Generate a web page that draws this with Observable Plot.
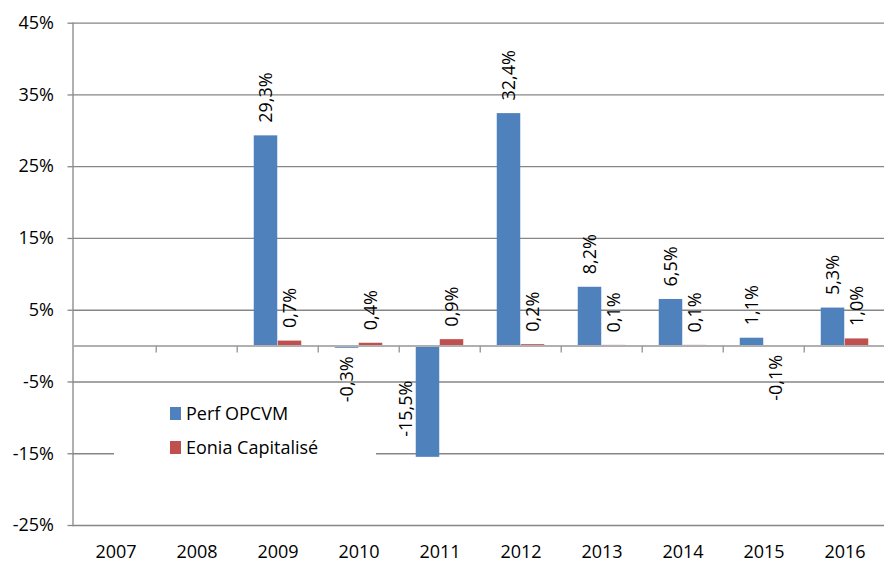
<!DOCTYPE html>
<html>
<head>
<meta charset="utf-8">
<script src="https://cdn.jsdelivr.net/npm/d3@7"></script>
<script src="https://cdn.jsdelivr.net/npm/@observablehq/plot@0.6"></script>
<style>
  html, body { margin: 0; padding: 0; background: #fff; overflow: hidden; }
  #wrap { position: relative; width: 884px; height: 562px; font-family: "Open Sans", Lato, sans-serif; }
  #legend { position: absolute; left: 114px; top: 403px; width: 262px; height: 60px; background: #fff;
            font-size: 18px; color: #000; }
  .item { position: absolute; left: 56px; display: flex; align-items: center; white-space: nowrap; line-height: 20px; }
  .sw { width: 11px; height: 13px; margin-right: 5px; }
</style>
</head>
<body>
<div id="wrap"></div>
<script>
const years = ["2007", "2008", "2009", "2010", "2011", "2012", "2013", "2014", "2015", "2016"];
const perfOPCVM = [null, null, 29.3, -0.3, -15.5, 32.4, 8.2, 6.5, 1.1, 5.3];
const eoniaCapitalise = [null, null, 0.7, 0.4, 0.9, 0.2, 0.1, 0.1, -0.1, 1.0];
const seriesNames = ["Perf OPCVM", "Eonia Capitalisé"];
const seriesColors = ["#4F81BD", "#C0504D"];
const yTicks = [-25, -15, -5, 5, 15, 25, 35, 45];

const W = 884, H = 562;
const mL = 72.5, mR = -3.5, mT = 22.7, mB = 37;
const bw = (W - mR - mL) / years.length;
const barW = 24;
const font = "'Open Sans', Lato, sans-serif";

const rows = [];
years.forEach((y, i) => {
  if (perfOPCVM[i] != null) rows.push({year: y, series: seriesNames[0], value: perfOPCVM[i], side: -1});
  if (eoniaCapitalise[i] != null) rows.push({year: y, series: seriesNames[1], value: eoniaCapitalise[i], side: 1});
});
const fmt = v => v.toFixed(1).replace(".", ",") + "%";
const blue = rows.filter(d => d.side < 0);
const red = rows.filter(d => d.side > 0);

const gridColor = "#868686";
// label offsets relative to band centre
const labelMarks = [];
for (const [data, off] of [[blue, -barW / 2], [red, barW / 2]]) {
  labelMarks.push(Plot.text(data.filter(d => d.value >= 0), {
    x: "year", y: "value", text: d => fmt(d.value), rotate: -90, textAnchor: "start",
    dx: off, dy: -13, fill: "#000", fontSize: 18
  }));
  labelMarks.push(Plot.text(data.filter(d => d.value < 0 && d.value > -10), {
    x: "year", y: "value", text: d => fmt(d.value), rotate: -90, textAnchor: "end",
    dx: off, dy: 8, fill: "#000", fontSize: 18
  }));
  labelMarks.push(Plot.text(data.filter(d => d.value <= -10), {
    x: "year", y: d => d.value / 2, text: d => fmt(d.value), rotate: -90, textAnchor: "middle",
    dx: off - 22, dy: 7, fill: "#000", fontSize: 18
  }));
}

const chart = Plot.plot({
  width: W, height: H,
  marginLeft: mL, marginRight: mR, marginTop: mT, marginBottom: mB,
  style: {fontFamily: font, fontSize: "18px", color: "#000", background: "#fff"},
  x: {domain: years, range: [mL, W - mR], padding: 0, label: null},
  y: {domain: [-25, 45], range: [H - mB, mT], label: null},
  marks: [
    Plot.gridY(yTicks, {stroke: gridColor, strokeOpacity: 1, strokeWidth: 1.3}),
    Plot.axisY({ticks: yTicks, tickSize: 5, tickPadding: 14, tickFormat: d => d + "%", stroke: gridColor, strokeWidth: 1.3, label: null}),
    Plot.frame({anchor: "left", stroke: gridColor, strokeWidth: 1.3}),
    Plot.barY(blue, {x: "year", y: "value", fill: seriesColors[0], insetLeft: bw / 2 - barW, insetRight: bw / 2}),
    Plot.barY(red, {x: "year", y: "value", fill: seriesColors[1], insetLeft: bw / 2, insetRight: bw / 2 - barW}),
    Plot.ruleY([0], {stroke: "#b0b0b0", strokeWidth: 2}),
    Plot.ruleX(years.slice(1), {x: d => d, y1: 0, y2: -0.95, dx: -bw / 2, stroke: "#a0a0a0", strokeWidth: 1.5}),
    ...labelMarks,
    Plot.axisX({tickSize: 0, tickPadding: 20, label: null}),
  ]
});
const wrap = document.getElementById("wrap");
wrap.appendChild(chart);

const legend = document.createElement("div");
legend.id = "legend";
seriesNames.forEach((name, i) => {
  const item = document.createElement("div");
  item.className = "item";
  item.style.top = (i === 0 ? 0 : 34) + "px";
  const sw = document.createElement("span");
  sw.className = "sw";
  sw.style.background = seriesColors[i];
  const t = document.createElement("span");
  t.textContent = name;
  item.appendChild(sw);
  item.appendChild(t);
  legend.appendChild(item);
});
wrap.appendChild(legend);
</script>
</body>
</html>
